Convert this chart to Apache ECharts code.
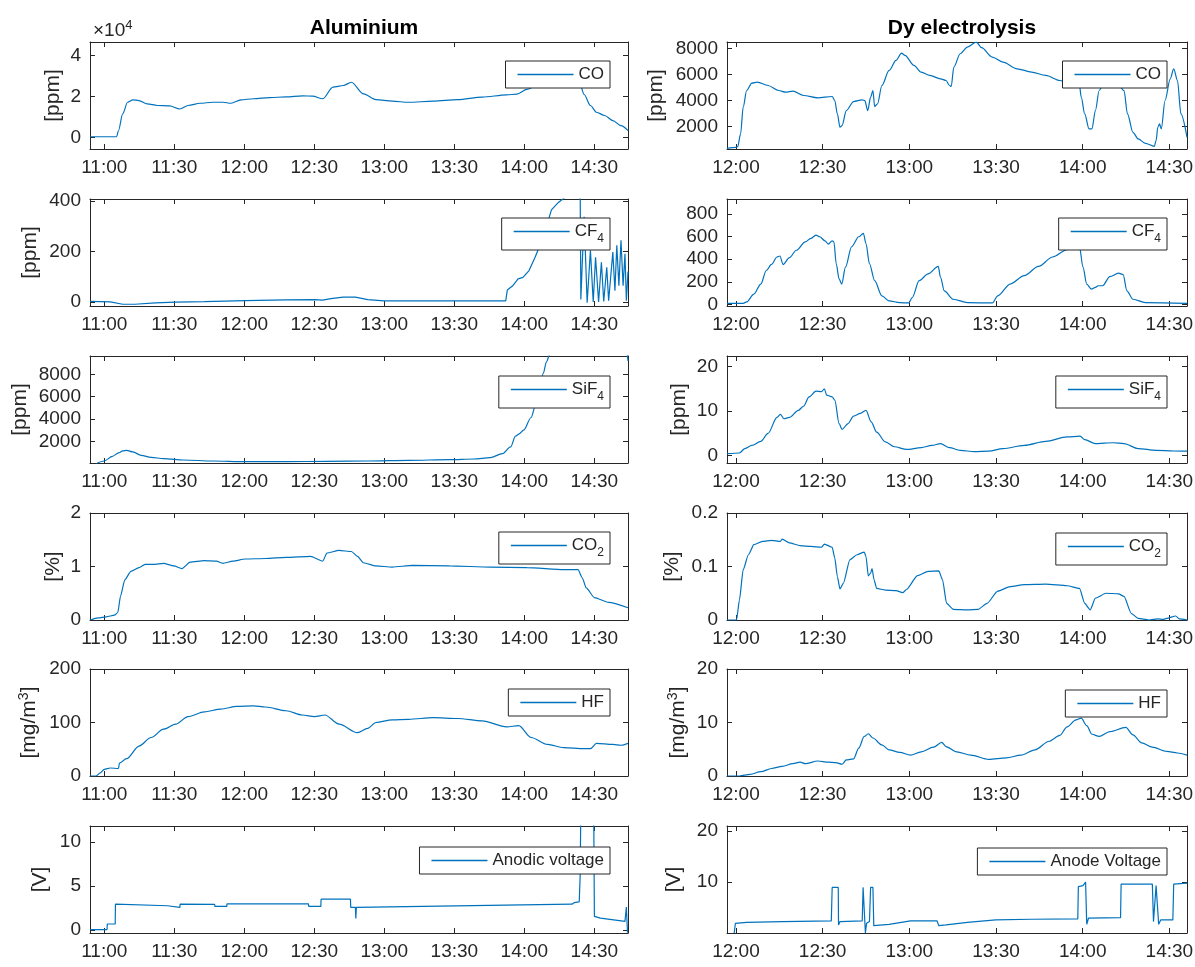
<!DOCTYPE html>
<html>
<head>
<meta charset="utf-8">
<script src="https://cdn.jsdelivr.net/npm/echarts@6.0.0/dist/echarts.min.js"></script>
<style>
html, body { margin: 0; padding: 0; background: #fff; }
#chart { width: 1195px; height: 967px; }
</style>
</head>
<body>
<div id="chart"></div>
<script>
// times are minutes after midnight
const alTicks = [660, 690, 720, 750, 780, 810, 840, 870];
const alTickLabels = ['11:00', '11:30', '12:00', '12:30', '13:00', '13:30', '14:00', '14:30'];
const dyTicks = [720, 750, 780, 810, 840, 870];
const dyTickLabels = ['12:00', '12:30', '13:00', '13:30', '14:00', '14:30'];

// Aluminium
const alCoT = [654, 665.3, 666.1, 667.9, 670, 672.3, 674.9, 678.4, 682.8, 688, 692.4, 695.9, 701.1, 706.4, 710.8, 714.3, 718.6, 723.9, 730.9, 737.9, 744.9, 749.3, 753.6, 758, 762.4, 765.9, 771.1, 776.4, 783.4, 790.4, 800.9, 811.4, 821.9, 832.4, 836.8, 841.1, 846.4, 856.9, 863.9, 865.6, 868.3, 870.9, 874.4, 877.9, 881.4, 884.4];
const alCo = [300, 300, 3300, 11500, 17200, 18400, 18000, 16400, 15600, 15400, 13900, 15600, 16700, 17200, 17200, 16700, 18400, 18900, 19500, 19800, 20300, 20200, 18900, 24600, 25400, 27000, 21300, 18500, 17700, 17200, 17700, 18500, 19700, 20800, 21200, 23500, 25800, 26800, 25800, 21000, 15600, 12300, 10700, 8200, 5700, 3300];

const alCf4T = [653.9, 662.6, 667.9, 673.1, 681.9, 690.6, 702.9, 720.4, 737.9, 750.1, 753.6, 757.1, 762.4, 767.6, 772.9, 779.9, 807.9, 832, 832.7, 835, 837.3, 839.4, 842, 844.6, 848.1, 851.6, 854.3, 856.9, 860.4, 863.9, 864.2, 865.6, 866.9, 868.3, 869.5, 870.5, 871.8, 873, 874, 875.3, 876.1, 877.9, 878.8, 879.6, 880.5, 881.4, 882.3, 883.1, 883.7, 884.4];
const alCf4 = [2, 0, -9, -9, -4, -1, 1, 5, 8, 9, 7, 13, 19, 19, 9, 4, 4, 4, 47, 64, 91, 97, 124, 177, 257, 364, 391, 410, 440, 460, 10, 337, -3, 204, 0, 177, 0, 157, 2, 137, 5, 197, 44, 224, 64, 244, 64, 190, 5, 120];

const alSif4T = [656.5, 660, 663.5, 666.1, 667.9, 669.6, 672.3, 675.8, 680.1, 685.4, 694.1, 706.4, 720.4, 737.9, 755.4, 772.9, 790.4, 807.9, 818.4, 825.4, 830.6, 834.1, 836.2, 837.6, 839.7, 842.9, 844.6, 846.4, 848.1, 849.5, 850.8, 853.4, 860.4, 877.9, 883.1, 884.4];
const alSif4 = [0, 240, 660, 960, 1140, 1200, 1050, 750, 570, 450, 330, 240, 180, 180, 210, 240, 300, 360, 420, 540, 900, 1500, 2460, 2640, 3000, 4140, 5100, 6600, 8100, 9150, 9750, 12000, 16000, 14000, 11000, 9200];

const alCo2T = [653.9, 657.4, 660.9, 664.4, 665.8, 667, 668.8, 671.4, 674.9, 677.5, 681, 685.4, 689.8, 693.3, 696.8, 702.9, 708.1, 710.8, 715.1, 720.4, 729.1, 737.9, 748.4, 753.6, 755.4, 760.6, 765.9, 768.5, 771.1, 776.4, 783.4, 792.1, 807.9, 825.4, 841.1, 856.9, 863, 864.8, 866.5, 870, 876.1, 884.4];
const alCo2 = [0, 0.04, 0.06, 0.09, 0.14, 0.45, 0.75, 0.91, 0.98, 1.04, 1.04, 1.06, 1.01, 0.96, 1.08, 1.11, 1.10, 1.06, 1.10, 1.14, 1.15, 1.17, 1.19, 1.10, 1.25, 1.30, 1.28, 1.19, 1.07, 1.01, 0.99, 1.02, 1.01, 0.99, 0.98, 0.94, 0.94, 0.79, 0.60, 0.42, 0.33, 0.23];

const alHfT = [653.9, 656.5, 658.3, 660, 662.6, 666.1, 666.5, 669.6, 674.9, 680.1, 685.4, 690.6, 695.9, 702.9, 709.9, 716.9, 723.9, 729.1, 737.9, 744.9, 750.1, 754.5, 760.6, 768.5, 772.9, 776.4, 783.4, 790.4, 800.9, 811.4, 821.9, 832.4, 837.6, 842.9, 849.9, 856.9, 865.6, 868.3, 870.9, 877.9, 881.4, 884.4];
const alHf = [0, 0, 6, 12.5, 15, 14, 24, 32.5, 56, 72, 87.5, 97, 111, 120, 125, 130, 131, 129, 122, 114, 111, 114, 97, 81, 89, 100, 105, 106, 109, 107.5, 103, 92, 94, 72, 59, 53, 51, 51, 61, 59, 57.5, 61];

const alVT = [653.9, 661.2, 661.3, 664.7, 664.8, 687.1, 687.2, 692.4, 692.5, 707.3, 707.4, 712.5, 712.6, 747.5, 747.6, 752.8, 752.9, 765.5, 765.6, 767.6, 767.8, 768, 860.4, 861.3, 863.5, 863.9, 864.2, 869.7, 870, 872.6, 883.1, 883.7, 884.2];
const alV = [0.05, 0.05, 0.68, 0.68, 2.93, 2.75, 2.56, 2.56, 2.93, 2.9, 2.67, 2.67, 2.97, 2.97, 2.67, 2.67, 3.5, 3.5, 2.56, 2.56, 1.3, 2.56, 2.93, 3.1, 3.2, 6.1, 14, 14, 1.54, 1.35, 0.98, 2.6, -0.3];

// Dy electrolysis
const dyCoT = [716.9, 720, 720.6, 721.6, 722.5, 723.7, 725.5, 727.4, 731.1, 734.8, 737.2, 739.7, 743.4, 748.3, 753.3, 754.2, 755.1, 756, 756.7, 758.2, 760.7, 763.7, 764.6, 765.6, 766.6, 767.4, 768, 769, 770.5, 773, 775.4, 777.3, 778.5, 781.6, 784.1, 787.1, 790.8, 792.7, 793.9, 794.5, 795.4, 797.6, 800.1, 803.2, 805, 808.7, 812.4, 817.3, 822.3, 827.2, 832.1, 834.6, 838.9, 839.5, 840.7, 842.2, 843.2, 844.4, 845.7, 846.9, 851.8, 854.3, 855.5, 857.4, 859.2, 861.7, 864.8, 865.4, 866, 866.6, 867.2, 868.5, 870.3, 871.5, 872.8, 874, 876.1];
const dyCo = [327, 400, 456, 1434, 3493, 4780, 5346, 5423, 5166, 4780, 4650, 4730, 4394, 4214, 4317, 4008, 2978, 1949, 2077, 3236, 3930, 4060, 4008, 3236, 4265, 4780, 3544, 3750, 5166, 6324, 7097, 7663, 7483, 6710, 6196, 5938, 5680, 5552, 5166, 5089, 6582, 7611, 8126, 8512, 8075, 7354, 6968, 6453, 6196, 5938, 5552, 5423, 5166, 4265, 2978, 1820, 1820, 3236, 4780, 5166, 5423, 4780, 2978, 1562, 1048, 713, 481, 919, 1949, 2206, 1820, 4008, 5680, 6453, 5552, 2978, 1176];

const dyCf4T = [716.9, 722.5, 723.7, 726.2, 728.6, 730.5, 732.3, 734.2, 735.2, 736.3, 738.5, 740.9, 744, 745.9, 747.7, 749, 750.8, 752, 753.3, 753.9, 754.7, 755.7, 756.6, 757.9, 760, 762.5, 764.1, 765, 766.2, 768, 770.5, 773, 776.7, 779.8, 781, 783.4, 786.5, 790, 790.8, 792.1, 795.2, 800.1, 808.7, 810.6, 814.9, 819.8, 824.7, 829.6, 834.6, 838.9, 840.1, 841.4, 843, 844.4, 845.4, 846.9, 849.4, 852.4, 854, 855.3, 857.4, 861.7, 876.1];
const dyCf4 = [9, 9, 21, 90, 180, 300, 354, 420, 429, 354, 414, 480, 555, 585, 615, 600, 564, 534, 564, 555, 360, 225, 180, 330, 510, 600, 630, 540, 360, 210, 75, 30, 15, 12, 60, 210, 270, 336, 240, 120, 45, 15, 12, 75, 180, 255, 336, 420, 486, 510, 330, 180, 135, 150, 165, 165, 246, 276, 264, 120, 45, 15, 9];

const dySif4T = [716.9, 721.2, 723.1, 725.5, 728.6, 731.1, 734.2, 735.4, 736.6, 738.5, 741.6, 743.4, 745.3, 747.7, 749.6, 750.6, 751.4, 753.3, 754.2, 755.7, 756.7, 758.8, 760.7, 763.1, 765, 766.8, 768.7, 771.7, 774.8, 779.1, 784.1, 787.8, 790.8, 793.9, 797.6, 802.5, 807.5, 812.4, 819.8, 827.2, 834.6, 839.1, 840.7, 844.4, 850.6, 854.3, 859.2, 865.4, 871.5, 876.1];
const dySif4 = [0.45, 0.6, 1.6, 2.3, 3.2, 5.0, 8.6, 9.3, 8.3, 8.6, 10.2, 11.1, 13.2, 14.5, 14.4, 15.0, 13.6, 13.2, 12.5, 7.2, 5.9, 7.2, 8.9, 9.5, 10.2, 7.6, 5.3, 3.1, 2.0, 1.4, 1.8, 2.3, 2.7, 1.8, 1.2, 0.9, 1.0, 1.6, 2.3, 3.2, 4.2, 4.4, 3.6, 2.7, 2.9, 2.7, 1.6, 1.2, 1.05, 1.0];

const dyCo2T = [716.9, 720.2, 721.2, 722.5, 724.3, 726.2, 729.2, 732.3, 735.4, 736, 738.5, 742.2, 745.9, 749.6, 750.6, 753.3, 754.2, 755.1, 756, 757.2, 759.4, 761.9, 764.4, 765, 765.8, 766.6, 767.1, 767.8, 768.7, 771.7, 775.4, 777.7, 779.1, 782.8, 786.5, 790.2, 791.5, 792.9, 795.2, 800.1, 803.8, 806.9, 810.6, 814.9, 819.8, 827.2, 834.6, 838.9, 840.7, 842.6, 844.4, 848.1, 852.4, 854.3, 856.8, 859.2, 862.9, 866, 867.8, 869.1, 872.2, 873.4, 876.1];
const dyCo2 = [0, 0, 0.0375, 0.094, 0.122, 0.141, 0.147, 0.149, 0.147, 0.151, 0.144, 0.139, 0.1375, 0.136, 0.142, 0.136, 0.116, 0.081, 0.058, 0.069, 0.1125, 0.122, 0.127, 0.119, 0.0825, 0.0875, 0.096, 0.075, 0.059, 0.056, 0.055, 0.051, 0.0575, 0.083, 0.091, 0.092, 0.075, 0.031, 0.02, 0.019, 0.02, 0.031, 0.054, 0.0625, 0.066, 0.067, 0.064, 0.059, 0.031, 0.019, 0.041, 0.05, 0.049, 0.044, 0.0125, 0.003, 0, 0.002, 0.001, 0.003, 0.0075, 0.002, 0];

const dyHfT = [716.9, 721.2, 724.9, 728.6, 732.3, 736, 739.7, 742.2, 744, 748.3, 752, 754.5, 756.7, 758.2, 760.7, 762.5, 764.4, 765.8, 767.4, 770.5, 773, 776.7, 780.4, 784.1, 788.4, 791.2, 792.7, 796.4, 801.3, 807.5, 813.6, 818.6, 823.5, 828.4, 832.1, 834.6, 837.7, 839.5, 841.4, 843.2, 845.7, 849.4, 854.9, 857.4, 860.4, 864.1, 869.1, 872.8, 876.1];
const dyHf = [0, 0, 0.3, 0.8, 1.4, 1.8, 2.3, 2.6, 2.3, 2.8, 2.6, 2.5, 2.2, 3.0, 3.2, 5.2, 7.4, 7.9, 7.1, 5.8, 4.9, 4.4, 3.9, 4.5, 5.4, 6.3, 5.5, 4.5, 3.9, 3.1, 3.4, 3.9, 4.9, 6.5, 7.6, 9.2, 10.5, 10.8, 9.4, 7.8, 7.4, 8.3, 9.1, 7.7, 6.2, 5.4, 4.6, 4.3, 3.9];

const dyVT = [719.4, 719.8, 723.7, 736, 753, 753.3, 755.4, 755.5, 756, 763.7, 764, 764.6, 764.8, 765.2, 766.2, 766.6, 767.4, 767.7, 773, 780.4, 789.6, 790.2, 792.7, 800.1, 809.9, 822.3, 838.3, 838.5, 840.1, 841, 841.4, 842, 853.1, 853.3, 864.1, 864.5, 865.4, 866, 866.3, 867, 871.2, 871.5, 876.1];
const dyV = [0, 1.9, 2.1, 2.24, 2.37, 8.95, 8.95, 1.58, 2.24, 2.37, 8.95, 8.95, 0, 1.9, 2.24, 8.95, 8.95, 1.45, 1.7, 2.37, 2.37, 1.45, 1.58, 2.1, 2.56, 2.7, 2.76, 9.1, 9.3, 10, 1.7, 2.9, 3.0, 9.6, 9.6, 2.24, 9.3, 9.3, 1.7, 2.56, 2.56, 9.6, 9.8];

const ink = '#262626';
const blue = '#0072BD';
const font = '"Liberation Sans", Arial, Helvetica, sans-serif';

const cols = [
  { left: 90, width: 538, min: 653.9, max: 884.4, ticks: alTicks, labels: alTickLabels, legendRight: 585 },
  { left: 727, width: 460, min: 716.9, max: 876.1, ticks: dyTicks, labels: dyTickLabels, legendRight: 28 }
];
const rowTops = [42, 199, 356, 513, 669, 826];
const rowH = 107;

// smooth: gentle curves get a little spline smoothing, step-like traces stay straight
const panels = [
  { col: 0, row: 0, id: 'alCo', label: 'CO', t: alCoT, v: alCo, min: -5700, max: 46700, yt: [0, 20000, 40000], fmt: v => String(v / 1e4), yName: '[ppm]', gap: 26, lt: 61, smooth: 0.3 },
  { col: 0, row: 1, id: 'alCf4', label: 'CF{sub|4}', t: alCf4T, v: alCf4, min: -16, max: 407, yt: [0, 200, 400], yName: '[ppm]', gap: 49, lt: 218, smooth: 0 },
  { col: 0, row: 2, id: 'alSif4', label: 'SiF{sub|4}', t: alSif4T, v: alSif4, min: 60, max: 9650, yt: [2000, 4000, 6000, 8000], yName: '[ppm]', gap: 59, lt: 376, smooth: 0.3 },
  { col: 0, row: 3, id: 'alCo2', label: 'CO{sub|2}', t: alCo2T, v: alCo2, min: 0, max: 2, yt: [0, 1, 2], yName: '[%]', gap: 26, lt: 532, smooth: 0.2 },
  { col: 0, row: 4, id: 'alHf', label: 'HF', t: alHfT, v: alHf, min: 0, max: 200, yt: [0, 100, 200], yName: '[mg/m{sup|3}]', gap: 49, lt: 689, smooth: 0.3 },
  { col: 0, row: 5, id: 'alV', label: 'Anodic voltage', t: alVT, v: alV, min: -0.34, max: 11.8, yt: [0, 5, 10], yName: '[V]', gap: 39, lt: 847, smooth: 0 },
  { col: 1, row: 0, id: 'dyCo', label: 'CO', t: dyCoT, v: dyCo, min: 275, max: 8515, yt: [2000, 4000, 6000, 8000], yName: '[ppm]', gap: 60, lt: 61, smooth: 0.3 },
  { col: 1, row: 1, id: 'dyCf4', label: 'CF{sub|4}', t: dyCf4T, v: dyCf4, min: -15, max: 935, yt: [0, 200, 400, 600, 800], yName: '', gap: 50, lt: 218, smooth: 0.3 },
  { col: 1, row: 2, id: 'dySif4', label: 'SiF{sub|4}', t: dySif4T, v: dySif4, min: -1.65, max: 22.4, yt: [0, 10, 20], yName: '[ppm]', gap: 37, lt: 376, smooth: 0.3 },
  { col: 1, row: 3, id: 'dyCo2', label: 'CO{sub|2}', t: dyCo2T, v: dyCo2, min: 0, max: 0.2, yt: [0, 0.1, 0.2], yName: '[%]', gap: 44, lt: 533, smooth: 0.2 },
  { col: 1, row: 4, id: 'dyHf', label: 'HF', t: dyHfT, v: dyHf, min: 0, max: 20, yt: [0, 10, 20], yName: '[mg/m{sup|3}]', gap: 37, lt: 690, smooth: 0.3 },
  { col: 1, row: 5, id: 'dyV', label: 'Anode Voltage', t: dyVT, v: dyV, min: 0, max: 21, yt: [10, 20], yName: '[V]', gap: 42, lt: 848, smooth: 0 }
];

const tick = { show: true, inside: true, length: 5, lineStyle: { color: ink, width: 1 } };
const line = { show: true, onZero: false, lineStyle: { color: ink, width: 1 } };
const lbl = { color: ink, fontSize: 19, fontFamily: font };

const grid = [], xAxis = [], yAxis = [], series = [], legend = [];
panels.forEach((p, i) => {
  const c = cols[p.col];
  grid.push({ left: c.left, top: rowTops[p.row], width: c.width, height: rowH, outerBoundsMode: 'none' });
  xAxis.push({
    type: 'value', gridIndex: i, position: 'bottom', min: c.min, max: c.max,
    axisLine: line, splitLine: { show: false },
    axisTick: Object.assign({ customValues: c.ticks }, tick),
    axisLabel: Object.assign({ customValues: c.ticks, margin: 9, formatter: v => c.labels[c.ticks.indexOf(v)] }, lbl)
  });
  xAxis.push({
    type: 'value', gridIndex: i, position: 'top', min: c.min, max: c.max,
    axisLine: line, splitLine: { show: false },
    axisTick: Object.assign({ customValues: c.ticks }, tick),
    axisLabel: { show: false }
  });
  yAxis.push({
    type: 'value', gridIndex: i, position: 'left', min: p.min, max: p.max,
    axisLine: line, splitLine: { show: false },
    axisTick: Object.assign({ customValues: p.yt }, tick),
    axisLabel: Object.assign({ customValues: p.yt, margin: 9, formatter: p.fmt || (v => String(v)) }, lbl),
    name: p.yName, nameLocation: 'middle', nameGap: p.gap, nameRotate: 90,
    nameTextStyle: { color: ink, fontSize: 21, fontFamily: font, rich: { sup: { fontSize: 14, fontFamily: font, color: ink, padding: [0, 0, 10, 0] } } }
  });
  yAxis.push({
    type: 'value', gridIndex: i, position: 'right', min: p.min, max: p.max,
    axisLine: line, splitLine: { show: false },
    axisTick: Object.assign({ customValues: p.yt }, tick),
    axisLabel: { show: false }
  });
  series.push({
    type: 'line', name: p.id, xAxisIndex: 2 * i, yAxisIndex: 2 * i,
    data: p.t.map((t, k) => [t, p.v[k]]),
    symbol: 'none', showSymbol: false, color: blue,
    smooth: p.smooth, smoothMonotone: 'x',
    lineStyle: { color: blue, width: 1.2 }, clip: true, animation: false
  });
  legend.push({
    data: [p.id], selectedMode: false, right: c.legendRight, top: p.lt,
    icon: 'rect', itemWidth: 56, itemHeight: 1.5, itemGap: 0,
    backgroundColor: '#fff', borderColor: ink, borderWidth: 1, borderRadius: 0,
    padding: [5, 6, 5, 12], formatter: () => p.label,
    textStyle: { color: ink, fontSize: 17, fontFamily: font, rich: { sub: { fontSize: 12, fontFamily: font, color: ink, padding: [15, 0, 0, 0] } } }
  });
});

const title = [
  { text: 'Aluminium', left: 359, top: 13, textAlign: 'center', textStyle: { color: '#000', fontSize: 21, fontWeight: 'bold', fontFamily: font } },
  { text: 'Dy electrolysis', left: 957, top: 13, textAlign: 'center', textStyle: { color: '#000', fontSize: 21, fontWeight: 'bold', fontFamily: font } },
  { text: '×10{sup|4}', left: 88, top: 14, textStyle: { color: ink, fontSize: 19, fontWeight: 'normal', fontFamily: font, rich: { sup: { fontSize: 13, fontFamily: font, color: ink, padding: [0, 0, 10, 0] } } } }
];

const chart = echarts.init(document.getElementById('chart'));
chart.setOption({ backgroundColor: '#fff', animation: false, title, grid, xAxis, yAxis, series, legend });
</script>
</body>
</html>
